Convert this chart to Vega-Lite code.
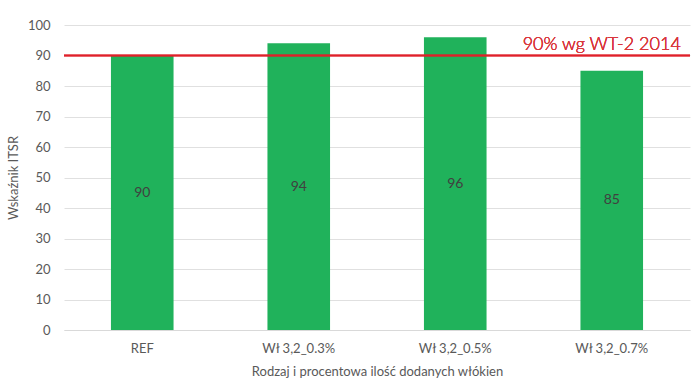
{
  "$schema": "https://vega.github.io/schema/vega-lite/v6.json",
  "width": 626,
  "height": 305,
  "autosize": {"type": "none"},
  "padding": {"left": 64, "top": 25, "right": 5, "bottom": 61},
  "background": "white",
  "config": {
    "view": {"stroke": null},
    "font": "Lato",
    "axis": {"labelFont": "Lato", "titleFont": "Lato", "labelColor": "#595959", "titleColor": "#595959", "labelFontSize": 13, "titleFontSize": 13, "titleFontWeight": "normal"}
  },
  "data": {
    "values": [
      {"kategoria": "REF", "itsr": 90},
      {"kategoria": "Wł 3,2_0.3%", "itsr": 94},
      {"kategoria": "Wł 3,2_0.5%", "itsr": 96},
      {"kategoria": "Wł 3,2_0.7%", "itsr": 85}
    ]
  },
  "resolve": {"scale": {"y": "independent"}, "axis": {"y": "independent"}},
  "layer": [
    {
      "mark": {"type": "bar", "color": "#20b25b"},
      "encoding": {
        "x": {
          "field": "kategoria", "type": "nominal", "sort": null,
          "scale": {"paddingInner": 0.6, "paddingOuter": 0.3},
          "axis": {"labelAngle": 0, "ticks": false, "domainColor": "#d9d9d9", "labelPadding": 12, "title": "Rodzaj i procentowa ilość dodanych włókien", "titlePadding": 10}
        },
        "y": {
          "field": "itsr", "type": "quantitative",
          "scale": {"domain": [0, 100]},
          "axis": {"values": [0,10,20,30,40,50,60,70,80,90,100], "domain": false, "ticks": false, "gridColor": "#e0e0e0", "labelPadding": 14, "title": "Wskaźnik ITSR", "titlePadding": 7}
        }
      }
    },
    {
      "mark": {"type": "text", "color": "#404040", "fontSize": 14, "fontWeight": "normal", "baseline": "middle"},
      "encoding": {
        "x": {"field": "kategoria", "type": "nominal", "sort": null},
        "y": {"field": "itsr", "type": "quantitative", "scale": {"domain": [0, 200]}, "axis": null},
        "text": {"field": "itsr", "type": "quantitative"}
      }
    },
    {
      "mark": {"type": "rule", "color": "#e0202a", "stroke": "#e0202a", "strokeWidth": 1.3},
      "encoding": {"y": {"datum": 90, "type": "quantitative", "scale": {"domain": [0, 100]}, "axis": null}}
    },
    {
      "mark": {"type": "text", "color": "#d9363b", "font": "Lato", "fontSize": 18, "fontWeight": 300, "align": "center", "baseline": "alphabetic", "dy": -6, "dx": -10},
      "encoding": {
        "x": {"datum": "Wł 3,2_0.7%"},
        "y": {"datum": 90, "type": "quantitative", "scale": {"domain": [0, 100]}, "axis": null},
        "text": {"value": "90% wg WT-2 2014"}
      }
    }
  ]
}
